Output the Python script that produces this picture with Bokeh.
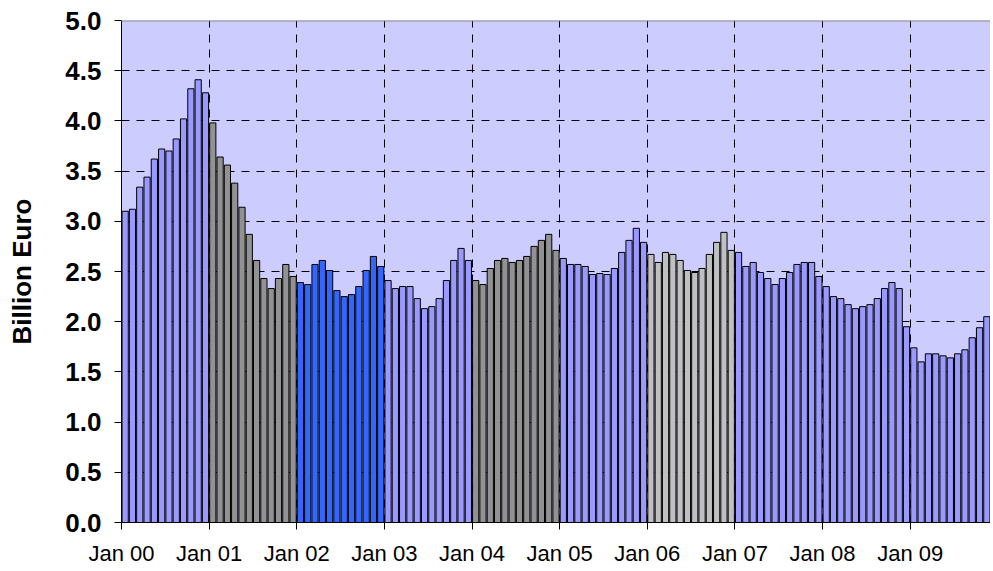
from bokeh.plotting import figure
from bokeh.models import ColumnDataSource, FixedTicker, Span, PrintfTickFormatter
from bokeh.embed import file_html
from bokeh.resources import INLINE

# Monthly values (Billion Euro), Jan 2000 - Nov 2009
y2000 = [3.10, 3.12, 3.34, 3.44, 3.62, 3.72, 3.70, 3.82, 4.02, 4.32, 4.41, 4.28]
y2001 = [3.98, 3.64, 3.56, 3.38, 3.14, 2.87, 2.61, 2.43, 2.33, 2.43, 2.57, 2.45]
y2002 = [2.39, 2.37, 2.57, 2.61, 2.51, 2.31, 2.25, 2.27, 2.35, 2.51, 2.65, 2.55]
y2003 = [2.41, 2.33, 2.35, 2.35, 2.23, 2.13, 2.15, 2.23, 2.41, 2.61, 2.73, 2.61]
y2004 = [2.41, 2.37, 2.53, 2.61, 2.63, 2.59, 2.61, 2.65, 2.75, 2.81, 2.87, 2.71]
y2005 = [2.63, 2.57, 2.57, 2.55, 2.47, 2.48, 2.47, 2.53, 2.69, 2.81, 2.93, 2.79]
y2006 = [2.67, 2.59, 2.69, 2.67, 2.61, 2.51, 2.49, 2.53, 2.67, 2.79, 2.89, 2.71]
y2007 = [2.69, 2.55, 2.59, 2.49, 2.43, 2.37, 2.43, 2.49, 2.57, 2.59, 2.59, 2.45]
y2008 = [2.35, 2.25, 2.23, 2.17, 2.13, 2.15, 2.17, 2.23, 2.33, 2.39, 2.33, 1.95]
y2009 = [1.74, 1.60, 1.68, 1.68, 1.66, 1.64, 1.68, 1.72, 1.84, 1.94, 2.05]

years = [y2000, y2001, y2002, y2003, y2004, y2005, y2006, y2007, y2008, y2009]
year_labels = ["Jan 00", "Jan 01", "Jan 02", "Jan 03", "Jan 04",
               "Jan 05", "Jan 06", "Jan 07", "Jan 08", "Jan 09"]
year_colors = ["#9999FF", "#929292", "#3366FF", "#9999FF", "#929292",
               "#9999FF", "#C0C0C0", "#9999FF", "#9999FF", "#9999FF"]
y_ticks = [0.0, 0.5, 1.0, 1.5, 2.0, 2.5, 3.0, 3.5, 4.0, 4.5, 5.0]

xs, vals, cols = [], [], []
for yi, arr in enumerate(years):
    for mi, v in enumerate(arr):
        xs.append(yi * 12 + mi + 0.5)
        vals.append(v)
        cols.append(year_colors[yi])
n_months = len(vals)

src = ColumnDataSource(dict(x=xs, v=vals, color=cols))

p = figure(width=990, height=568, x_range=(0, n_months), y_range=(0, 5),
           output_backend="svg", toolbar_location=None,
           min_border_left=121, min_border_right=0,
           min_border_top=20, min_border_bottom=44)
p.background_fill_color = "#CCCCFF"
p.border_fill_color = "white"
p.outline_line_color = None

p.vbar(x="x", top="v", bottom=0, width=0.85, source=src,
       fill_color="color", line_color="black", line_width=1)

p.add_layout(Span(location=5, dimension="width", line_color="#8C8C8C", line_width=2))

year_ticks = [i * 12 for i in range(len(year_labels))]
p.xaxis.ticker = FixedTicker(ticks=year_ticks)
p.xaxis.major_label_overrides = {t: lab for t, lab in zip(year_ticks, year_labels)}
p.xaxis.major_label_text_font = "Liberation Sans"
p.xaxis.major_label_text_font_size = "22px"
p.xaxis.major_label_text_color = "black"
p.xaxis.major_label_standoff = 11

p.yaxis.ticker = FixedTicker(ticks=y_ticks)
p.yaxis.formatter = PrintfTickFormatter(format="%.1f")
p.yaxis.major_label_text_font = "Liberation Sans"
p.yaxis.major_label_text_font_style = "bold"
p.yaxis.major_label_text_font_size = "26px"
p.yaxis.major_label_text_color = "black"
p.yaxis.major_label_standoff = 13
p.yaxis.axis_label = "Billion Euro"
p.yaxis.axis_label_text_font = "Liberation Sans"
p.yaxis.axis_label_text_font_style = "bold"
p.yaxis.axis_label_text_font_size = "26px"
p.yaxis.axis_label_text_color = "black"
p.yaxis.axis_label_standoff = 25

for ax in (p.xaxis, p.yaxis):
    ax.axis_line_color = "black"
    ax.axis_line_width = 1
    ax.major_tick_line_color = "black"
    ax.major_tick_out = 7
    ax.major_tick_in = 0
    ax.minor_tick_line_color = None

p.xgrid.ticker = FixedTicker(ticks=year_ticks[1:])
p.ygrid.ticker = FixedTicker(ticks=y_ticks[1:-1])
for g in (p.xgrid, p.ygrid):
    g.grid_line_color = "black"
    g.grid_line_width = 1
    g.grid_line_dash = "8 7"

open("out.html", "w").write(file_html(p, INLINE))
